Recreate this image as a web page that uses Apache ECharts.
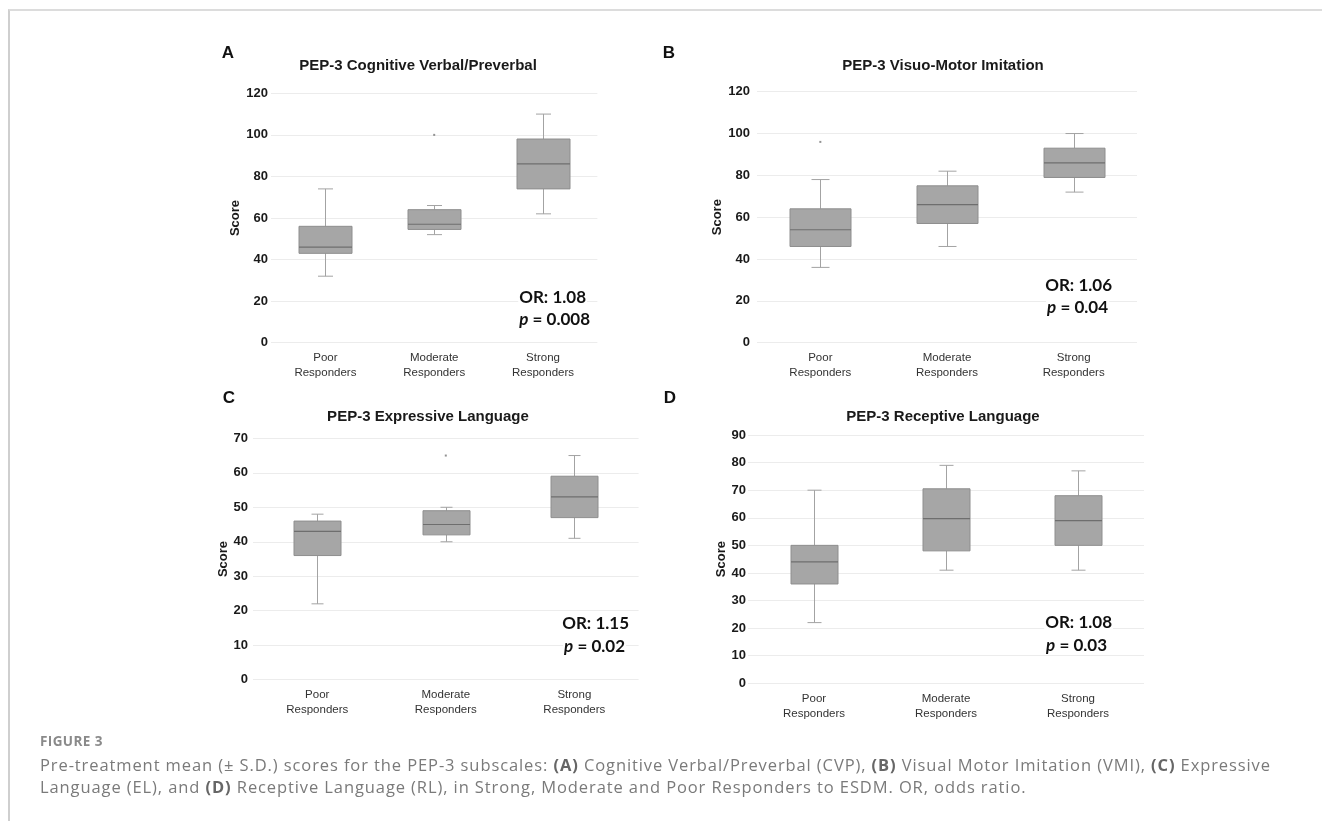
<!DOCTYPE html>
<html>
<head>
<meta charset="utf-8">
<script src="https://cdn.jsdelivr.net/npm/echarts@6/dist/echarts.min.js"></script>
<style>
  html, body { margin: 0; padding: 0; background: #fff; }
  #wrap { position: relative; width: 1322px; height: 821px; overflow: hidden; }
  #frame { position: absolute; left: 8px; top: 9px; right: -10px; bottom: -10px;
           border-top: 2px solid #dcdcdc; border-left: 2px solid #cfcfcf; }
  #chart { position: absolute; left: 0; top: 0; width: 1322px; height: 821px; }
  #fig { position: absolute; left: 40px; top: 732px; font-family: 'Open Sans', sans-serif;
         font-size: 13.5px; font-weight: 700; color: #8a8a8a; letter-spacing: 0.4px; }
  #cap { position: absolute; left: 40px; top: 754px; width: 1280px; font-family: 'Open Sans', sans-serif;
         font-size: 16.5px; line-height: 22px; color: #7a7a7a; letter-spacing: 0.9px; white-space: nowrap; }
  #cap b { color: #666; }
</style>
</head>
<body>
<div id="wrap">
  <div id="frame"></div>
  <div id="chart"></div>
  <div id="fig">FIGURE 3</div>
  <div id="cap">Pre-treatment mean (±&nbsp;S.D.) scores for the PEP-3 subscales: <b>(A)</b> Cognitive Verbal/Preverbal (CVP), <b>(B)</b> Visual Motor Imitation (VMI), <b>(C)</b> Expressive<br>Language (EL), and <b>(D)</b> Receptive Language (RL), in Strong, Moderate and Poor Responders to ESDM. OR, odds ratio.</div>
</div>
<script>
// ---------------- data ----------------
const categories = ['Poor\nResponders', 'Moderate\nResponders', 'Strong\nResponders'];

// [low whisker, Q1, median, Q3, high whisker] per category
const cvpBox = [[32, 43, 46, 56, 74], [52, 54.5, 57, 64, 66], [62, 74, 86, 98, 110]];
const cvpOutliers = [[1, 100]];
const vmiBox = [[36, 46, 54, 64, 78], [46, 57, 66, 75, 82], [72, 79, 86, 93, 100]];
const vmiOutliers = [[0, 96]];
const elBox = [[22, 36, 43, 46, 48], [40, 42, 45, 49, 50], [41, 47, 53, 59, 65]];
const elOutliers = [[1, 65]];
const rlBox = [[22, 36, 44, 50, 70], [41, 48, 59.7, 70.5, 79], [41, 50, 59, 68, 77]];
const rlOutliers = [];

const panelTitles = ['PEP-3 Cognitive Verbal/Preverbal', 'PEP-3 Visuo-Motor Imitation',
                     'PEP-3 Expressive Language', 'PEP-3 Receptive Language'];
const panelLetters = ['A', 'B', 'C', 'D'];
const yMax = [120, 120, 70, 90];
const yInterval = [20, 20, 10, 10];
const orValues = ['1.08', '1.06', '1.15', '1.08'];
const pValues = ['0.008', '0.04', '0.02', '0.03'];

// ---------------- layout (style only) ----------------
const grids = [
  { left: 271, top: 93.3, width: 326.4, height: 249.4 },
  { left: 757, top: 91.7, width: 380, height: 251 },
  { left: 253, top: 438.3, width: 385.6, height: 241.4 },
  { left: 748, top: 435, width: 396, height: 248.3 }
];
const boxW = [53, 61, 47, 47];
const capW = [15, 18, 12, 14];
const labelMargin = [3, 7, 5, 2];
const nameGaps = [25, 32, 22, 19];
const titlePos = [[418, 66], [943, 66], [428, 417], [943, 417]];
const letterPos = [[228, 53], [669, 53], [229, 398], [670, 398]];
const orPos = [[587, 298, 591, 320], [1113, 286, 1109, 308], [630, 624, 626, 647], [1113, 623, 1108, 646]];

const boxData = [cvpBox, vmiBox, elBox, rlBox];
const outData = [cvpOutliers, vmiOutliers, elOutliers, rlOutliers];

const FONT = "'Liberation Sans', Arial, sans-serif";
const ORFONT = "Lato, 'Open Sans', sans-serif";

function makeRender(k) {
  return function (params, api) {
    const x = api.value(0);
    const lo = api.coord([x, api.value(1)]);
    const q1 = api.coord([x, api.value(2)]);
    const md = api.coord([x, api.value(3)]);
    const q3 = api.coord([x, api.value(4)]);
    const hi = api.coord([x, api.value(5)]);
    const cx = Math.round(lo[0]) + 0.5;
    const hb = boxW[k] / 2, hc = capW[k] / 2;
    const wStyle = { stroke: '#a3a3a3', lineWidth: 1, fill: null };
    return {
      type: 'group',
      children: [
        { type: 'line', shape: { x1: cx, y1: q3[1], x2: cx, y2: hi[1] }, style: wStyle },
        { type: 'line', shape: { x1: cx - hc, y1: hi[1], x2: cx + hc, y2: hi[1] }, style: wStyle },
        { type: 'line', shape: { x1: cx, y1: q1[1], x2: cx, y2: lo[1] }, style: wStyle },
        { type: 'line', shape: { x1: cx - hc, y1: lo[1], x2: cx + hc, y2: lo[1] }, style: wStyle },
        { type: 'rect', shape: { x: cx - hb, y: q3[1], width: boxW[k], height: q1[1] - q3[1] },
          style: { fill: '#a6a6a6', stroke: '#8e8e8e', lineWidth: 1 } },
        { type: 'line', shape: { x1: cx - hb, y1: md[1], x2: cx + hb, y2: md[1] },
          style: { stroke: '#6e6e6e', lineWidth: 1.2 } }
      ]
    };
  };
}

const option = {
  backgroundColor: 'transparent',
  animation: false,
  grid: grids.map(g => Object.assign({ containLabel: false }, g)),
  xAxis: grids.map((g, k) => ({
    type: 'category', gridIndex: k, data: categories,
    axisLine: { show: false }, axisTick: { show: false }, splitLine: { show: false },
    axisLabel: { fontFamily: FONT, fontSize: 11.5, color: '#333', lineHeight: 15, margin: 8, interval: 0 }
  })),
  yAxis: grids.map((g, k) => ({
    type: 'value', gridIndex: k, min: 0, max: yMax[k], interval: yInterval[k],
    axisLine: { show: false }, axisTick: { show: false },
    splitLine: { show: true, lineStyle: { color: '#ececec', width: 1 } },
    axisLabel: { fontFamily: FONT, fontSize: 13, fontWeight: 'bold', color: '#1a1a1a', margin: labelMargin[k] },
    name: 'Score', nameLocation: 'middle', nameRotate: 90, nameGap: nameGaps[k],
    nameTextStyle: { fontFamily: FONT, fontSize: 13, fontWeight: 'bold', color: '#1a1a1a' }
  })),
  series: [].concat(
    boxData.map((bd, k) => ({
      type: 'custom', xAxisIndex: k, yAxisIndex: k,
      renderItem: makeRender(k),
      encode: { x: 0, y: [1, 2, 3, 4, 5] },
      data: bd.map((v, i) => [i].concat(v))
    })),
    outData.map((od, k) => ({
      type: 'scatter', xAxisIndex: k, yAxisIndex: k,
      symbol: 'rect', symbolSize: 2,
      itemStyle: { color: '#777' },
      data: od
    }))
  ),
  graphic: [].concat(
    panelTitles.map((t, k) => ({
      type: 'text', silent: true,
      style: { text: t, x: titlePos[k][0], y: titlePos[k][1], align: 'center', verticalAlign: 'middle',
               textAlign: 'center', textVerticalAlign: 'middle',
               font: "bold 15px 'Liberation Sans', Arial, sans-serif", fill: '#1a1a1a' }
    })),
    panelLetters.map((t, k) => ({
      type: 'text', silent: true,
      style: { text: t, x: letterPos[k][0], y: letterPos[k][1], align: 'center', verticalAlign: 'middle',
               textAlign: 'center', textVerticalAlign: 'middle',
               font: "bold 17px 'Liberation Sans', Arial, sans-serif", fill: '#111' }
    })),
    orValues.map((t, k) => ({
      type: 'text', silent: true, z: 100,
      style: { text: 'OR: ' + t, x: orPos[k][0], y: orPos[k][1], align: 'right', verticalAlign: 'middle',
               textAlign: 'right', textVerticalAlign: 'middle', backgroundColor: '#fff', padding: [0, 1],
               font: "bold 17px " + ORFONT, fill: '#111' }
    })),
    pValues.map((t, k) => ({
      type: 'text', silent: true, z: 100,
      style: { text: '{i|p}{b| = ' + t + '}', x: orPos[k][2], y: orPos[k][3], align: 'right', verticalAlign: 'middle',
               textAlign: 'right', textVerticalAlign: 'middle', backgroundColor: '#fff', padding: [0, 1],
               rich: {
                 i: { fontFamily: ORFONT, fontSize: 17, fontWeight: 'bold', fontStyle: 'italic', fill: '#111', color: '#111' },
                 b: { fontFamily: ORFONT, fontSize: 17, fontWeight: 'bold', fill: '#111', color: '#111' }
               } }
    }))
  )
};

const chart = echarts.init(document.getElementById('chart'), null, { renderer: 'canvas' });
chart.setOption(option);
</script>
</body>
</html>
